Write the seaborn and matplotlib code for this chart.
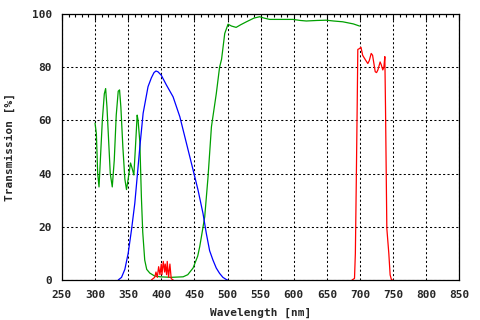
import numpy as np
import pandas as pd
import seaborn as sns
import matplotlib.pyplot as plt
from matplotlib.ticker import MultipleLocator

# green curve
green_nm = [300, 302, 304, 306, 308, 311, 314, 316, 318, 321, 323, 326, 329, 332, 335, 337,
            339, 342, 345, 347.5, 350, 353.6, 356, 358.6, 361, 363.6, 365, 367.6, 370, 372,
            375, 378, 382.7, 390, 398, 415, 433, 440, 448, 455, 458, 460.6, 465.6, 470.6,
            475.7, 483, 488, 491, 495.8, 500.8, 506, 513, 520, 528.5, 540, 548.5, 555, 563.6,
            598.7, 610, 619, 635, 649, 660, 674, 690, 699.3]
green_t = [59, 55, 40, 35, 45, 60, 70, 72, 65, 50, 40, 35, 45, 62, 71, 71.5,
           65, 50, 38, 34, 38, 44, 42, 39.5, 50, 62, 60, 52, 31, 18,
           7.5, 4, 2.6, 1.5, 1.2, 1, 1.2, 2, 4.5, 9, 12.5, 16.3, 23.8, 38.8,
           57.6, 70, 80, 83, 92.7, 96.2, 95.5, 95, 96, 97.1, 98.5, 99, 98.5, 98,
           98, 97.6, 97.4, 97.6, 97.7, 97.4, 97.1, 96.3, 95.5]

# blue curve
blue_nm = [335, 340, 345, 350, 355, 360, 365, 367.6, 372.6, 380, 385, 389, 392, 395, 400, 407.8,
           417.8, 428, 438, 448, 455.5, 463, 468, 473, 478, 483, 488, 493, 498, 500]
blue_t = [0, 1, 4, 10, 18.8, 28.8, 42.6, 50, 62.7, 72.7, 76, 78, 78.6, 78.3, 77, 73.3,
          68.9, 61.4, 51.4, 41.4, 33.8, 25, 17.5, 11, 7.5, 4.5, 2.5, 1, 0.2, 0]

# red curve, small bump near 400 nm
red1_nm = [385, 390, 392, 394, 396, 398, 400, 401, 403, 405, 406, 408, 409, 411, 413, 415, 418]
red1_t = [0, 1, 3, 1, 5, 2, 6, 2, 7, 3, 6, 2, 7, 1, 6, 0.5, 0]

# red curve, band 690-750 nm
red2_nm = [688, 691.7, 693, 694.3, 695.8, 696.7, 699, 701.5, 704, 708.4, 711.8, 714, 716.9,
           719, 723, 725, 727, 730.4, 732, 734.4, 736, 737.5, 738.5, 740.5, 743.5, 745.5,
           747.6, 750]
red2_t = [0, 0.6, 10, 35, 66.4, 86.7, 87, 87.5, 84.5, 82.7, 81.4, 82.5, 85.2,
          84.5, 78.3, 78, 79, 82, 81, 79, 80, 84, 65, 19.4, 10, 1.9,
          0, 0]

sns.set_style("white")
plt.rcParams['font.family'] = ['DejaVu Sans Mono']
plt.rcParams['font.weight'] = 'bold'

fig = plt.figure(figsize=(4.8, 3.2), dpi=100)
ax = fig.add_axes([0.129, 0.125, 0.828, 0.831])

sns.lineplot(x=green_nm, y=green_t, color='#00a000', lw=0.9, ax=ax, sort=False)
sns.lineplot(x=blue_nm, y=blue_t, color='#0000ff', lw=0.9, ax=ax, sort=False)
sns.lineplot(x=red1_nm, y=red1_t, color='#ff0000', lw=0.9, ax=ax, sort=False)
sns.lineplot(x=red2_nm, y=red2_t, color='#ff0000', lw=0.9, ax=ax, sort=False)

ax.set_xlim(250, 850)
ax.set_ylim(0, 100)
ax.xaxis.set_major_locator(MultipleLocator(50))
ax.xaxis.set_minor_locator(MultipleLocator(10))
ax.yaxis.set_major_locator(MultipleLocator(20))
ax.yaxis.set_minor_locator(MultipleLocator(4))
ax.grid(True, which='major', color='black', linestyle=(0, (2, 2.2)), lw=0.75)
ax.tick_params(which='both', direction='in', top=True, right=False, labelsize=8, color='black')
ax.tick_params(which='major', length=4, width=0.8)
ax.tick_params(which='minor', length=2.5, width=0.8)
ax.tick_params(axis='x', which='major', pad=7)
ax.tick_params(axis='y', which='major', pad=7)
for s in ax.spines.values():
    s.set_color('black')
    s.set_linewidth(0.9)
for lbl in ax.get_xticklabels() + ax.get_yticklabels():
    lbl.set_fontweight('bold')

ax.set_xlabel('Wavelength [nm]', fontsize=8, fontweight='bold', labelpad=6)
ax.set_ylabel('Transmission [%]', fontsize=8, fontweight='bold', labelpad=12)

fig.savefig('out.png', dpi=100)
